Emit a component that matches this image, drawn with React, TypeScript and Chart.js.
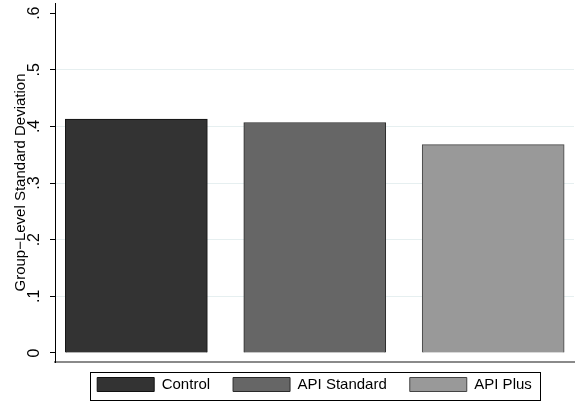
import React, { useEffect, useRef } from 'react';
import { Chart, registerables } from 'chart.js';

Chart.register(...registerables);

// ---- data ----
const categories = ['Control', 'API Standard', 'API Plus'];
const sdValues = [0.413, 0.407, 0.368];
const xPositions = [0, 1, 2];
const yTickValues = [0, 0.1, 0.2, 0.3, 0.4, 0.5, 0.6];
const yTickLabels = ['0', '.1', '.2', '.3', '.4', '.5', '.6'];
const yTitle = 'Group\u2212Level Standard Deviation';

// ---- styles ----
const barFills = ['#333333', '#666666', '#999999'];
const barBorders = ['#111111', '#2a2a2a', '#444444'];
const FONT = '"Liberation Sans", Arial, Helvetica, sans-serif';

export default function App() {
  const ref = useRef<HTMLCanvasElement>(null);

  useEffect(() => {
    const canvas = ref.current;
    if (!canvas) return;

    const legendTweak = {
      id: 'legendTweak',
      afterInit(chart: any) {
        const lg = chart.legend;
        if (lg) {
          const orig = lg.fit.bind(lg);
          lg.fit = () => {
            orig();
            lg.height = 40;
          };
        }
      },
      afterLayout(chart: any) {
        const lg = chart.legend;
        const ca = chart.chartArea;
        if (lg && ca) {
          lg.left = ca.left;
          lg.right = ca.right;
          lg.top = lg.top - 8;
        }
      },
      afterDraw(chart: any) {
        const lg = chart.legend;
        if (!lg || !lg.legendHitBoxes || !lg.legendHitBoxes.length) return;
        const hb = lg.legendHitBoxes;
        const first = hb[0];
        const last = hb[hb.length - 1];
        const l = Math.round(first.left - 7);
        const r = Math.round(last.left + last.width + 8);
        const t = Math.round(first.top - 5);
        const b = Math.round(first.top + first.height + 8);
        const ctx = chart.ctx;
        ctx.save();
        ctx.strokeStyle = '#000';
        ctx.lineWidth = 1;
        ctx.strokeRect(l + 0.5, t + 0.5, r - l, b - t);
        ctx.restore();
      },
    };

    const chart = new Chart(canvas, {
      type: 'bar',
      data: {
        datasets: categories.map((c, i) => ({
          label: c,
          data: [{ x: xPositions[i], y: sdValues[i] }],
          backgroundColor: barFills[i],
          borderColor: barBorders[i],
          borderWidth: 1,
          barThickness: 142,
          grouped: false,
        })),
      },
      options: {
        responsive: false,
        devicePixelRatio: 1,
        animation: false,
        layout: { padding: { top: 3, right: 5, left: 0, bottom: 0 } },
        scales: {
          x: {
            type: 'linear',
            min: -0.456,
            max: 2.453,
            offset: false,
            grid: { display: false, drawTicks: false },
            ticks: { display: false },
            border: { display: true, color: '#8a8a8a', width: 2 },
            afterFit: (s: any) => {
              s.height = 0;
              s.paddingLeft = 0;
              s.paddingRight = 0;
            },
          },
          y: {
            type: 'linear',
            min: -0.016,
            max: 0.618,
            afterFit: (s: any) => {
              s.width = 55;
              s.paddingTop = 0;
              s.paddingBottom = 0;
            },
            grid: {
              color: (ctx: any) =>
                ctx.tick && ctx.tick.value > 0.05 && ctx.tick.value < 0.55
                  ? '#e6eff0'
                  : 'rgba(0,0,0,0)',
              tickColor: '#000',
              tickLength: 5,
              lineWidth: 1,
            },
            border: { display: true, color: '#000', width: 1 },
            ticks: {
              stepSize: 0.1,
              includeBounds: false,
              autoSkip: false,
              minRotation: 90,
              maxRotation: 90,
              crossAlign: 'center',
              padding: 9,
              color: '#000',
              font: { family: FONT, size: 16 },
              callback: (value: any) => {
                const i = yTickValues.findIndex((v) => Math.abs(v - Number(value)) < 1e-9);
                return i >= 0 ? yTickLabels[i] : '';
              },
            },
            title: {
              display: true,
              text: yTitle,
              color: '#000',
              font: { family: FONT, size: 15 },
              padding: { top: 12, bottom: 0 },
            },
          },
        },
        plugins: {
          legend: {
            display: true,
            position: 'bottom',
            labels: {
              boxWidth: 57,
              boxHeight: 14,
              padding: 23,
              color: '#000',
              font: { family: FONT, size: 15 },
            },
          },
          tooltip: { enabled: false },
        },
      } as any,
      plugins: [legendTweak],
    } as any);

    return () => chart.destroy();
  }, []);

  return (
    <div
      style={{
        position: 'fixed',
        left: 0,
        top: 0,
        width: 579,
        height: 402,
        background: '#fff',
      }}
    >
      <canvas ref={ref} width={579} height={402} style={{ display: 'block' }} />
    </div>
  );
}
